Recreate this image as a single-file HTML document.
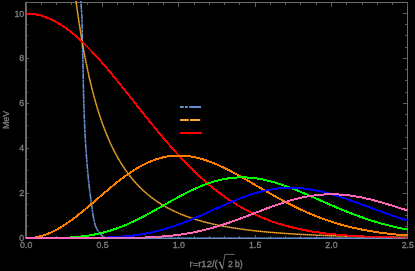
<!DOCTYPE html><html><head><meta charset="utf-8"><style>html,body{margin:0;padding:0;background:#000;overflow:hidden}body{width:415px;height:271px}</style></head><body><svg width="415" height="271" viewBox="0 0 415 271" style="display:block">
<rect width="415" height="271" fill="#000"/>
<defs><clipPath id="c"><rect x="25" y="1.0" width="382.8" height="239.2"/></clipPath></defs>
<g stroke="#666666" stroke-width="1" fill="none" shape-rendering="crispEdges">
<path d="M25,2.5 H408 M407.5,2 V238.5 M26,2 V238.5 M25,238 H408" stroke="#6c6c6c"/>
<path d="M25.5,2 V238.5" stroke="#6c6c6c"/>
<path d="M26.50,239 v-4 M26.50,3 v4 M41.50,239 v-3 M41.50,3 v2 M56.50,239 v-3 M56.50,3 v2 M71.50,239 v-3 M71.50,3 v2 M87.50,239 v-3 M87.50,3 v2 M102.50,239 v-4 M102.50,3 v4 M117.50,239 v-3 M117.50,3 v2 M133.50,239 v-3 M133.50,3 v2 M148.50,239 v-3 M148.50,3 v2 M163.50,239 v-3 M163.50,3 v2 M178.50,239 v-4 M178.50,3 v4 M194.50,239 v-3 M194.50,3 v2 M209.50,239 v-3 M209.50,3 v2 M224.50,239 v-3 M224.50,3 v2 M239.50,239 v-3 M239.50,3 v2 M255.50,239 v-4 M255.50,3 v4 M270.50,239 v-3 M270.50,3 v2 M285.50,239 v-3 M285.50,3 v2 M300.50,239 v-3 M300.50,3 v2 M316.50,239 v-3 M316.50,3 v2 M331.50,239 v-4 M331.50,3 v4 M346.50,239 v-3 M346.50,3 v2 M362.50,239 v-3 M362.50,3 v2 M377.50,239 v-3 M377.50,3 v2 M392.50,239 v-3 M392.50,3 v2 M407.50,239 v-4 M407.50,3 v4 M27,238.50 h2 M407,238.50 h-4 M407,226.50 h-2 M407,215.50 h-2 M407,204.50 h-2 M27,193.50 h2 M407,193.50 h-4 M407,182.50 h-2 M407,170.50 h-2 M407,159.50 h-2 M27,148.50 h2 M407,148.50 h-4 M407,137.50 h-2 M407,125.50 h-2 M407,114.50 h-2 M27,103.50 h2 M407,103.50 h-4 M407,92.50 h-2 M407,80.50 h-2 M407,69.50 h-2 M27,58.50 h2 M407,58.50 h-4 M407,47.50 h-2 M407,35.50 h-2 M407,24.50 h-2 M27,13.50 h2 M407,13.50 h-4" stroke="#5a5a5a"/>
<path d="M27,226.50 h1 M27,215.50 h1 M27,204.50 h1 M27,182.50 h1 M27,170.50 h1 M27,159.50 h1 M27,137.50 h1 M27,125.50 h1 M27,114.50 h1 M27,92.50 h1 M27,80.50 h1 M27,69.50 h1 M27,47.50 h1 M27,35.50 h1 M27,24.50 h1" stroke="#484848"/>
</g>
<g clip-path="url(#c)" fill="none" stroke-width="2" stroke-linejoin="round" shape-rendering="crispEdges">
<path d="M80.90,0.00 L80.93,0.79 L80.96,1.59 L80.99,2.38 L81.03,3.18 L81.07,3.97 L81.12,4.77 L81.16,5.56 L81.21,6.35 L81.27,7.15 L81.32,7.94 L81.37,8.74 L81.43,9.53 L81.48,10.33 L81.54,11.12 L81.59,11.91 L81.64,12.71 L81.70,13.50 L81.74,14.30 L81.79,15.09 L81.84,15.89 L81.88,16.68 L81.91,17.47 L81.95,18.27 L81.97,19.06 L82.00,19.86 L82.02,20.65 L82.03,21.45 L82.05,22.24 L82.06,23.04 L82.08,23.83 L82.09,24.62 L82.10,25.42 L82.11,26.21 L82.12,27.01 L82.13,27.80 L82.14,28.60 L82.15,29.39 L82.16,30.18 L82.17,30.98 L82.18,31.77 L82.19,32.57 L82.20,33.36 L82.21,34.16 L82.22,34.95 L82.23,35.74 L82.24,36.54 L82.25,37.33 L82.27,38.13 L82.28,38.92 L82.29,39.72 L82.31,40.51 L82.33,41.30 L82.35,42.10 L82.37,42.89 L82.39,43.69 L82.41,44.48 L82.44,45.28 L82.46,46.07 L82.48,46.86 L82.51,47.66 L82.54,48.45 L82.56,49.25 L82.59,50.04 L82.62,50.84 L82.64,51.63 L82.67,52.42 L82.70,53.22 L82.72,54.01 L82.75,54.81 L82.78,55.60 L82.80,56.40 L82.82,57.19 L82.85,57.98 L82.87,58.78 L82.89,59.57 L82.91,60.37 L82.93,61.16 L82.95,61.96 L82.96,62.75 L82.98,63.55 L83.00,64.34 L83.02,65.13 L83.03,65.93 L83.05,66.72 L83.06,67.52 L83.08,68.31 L83.10,69.11 L83.11,69.90 L83.12,70.69 L83.14,71.49 L83.15,72.28 L83.17,73.08 L83.18,73.87 L83.20,74.67 L83.21,75.46 L83.22,76.25 L83.24,77.05 L83.25,77.84 L83.26,78.64 L83.28,79.43 L83.29,80.23 L83.30,81.02 L83.32,81.81 L83.33,82.61 L83.35,83.40 L83.36,84.20 L83.37,84.99 L83.39,85.79 L83.40,86.58 L83.42,87.37 L83.43,88.17 L83.45,88.96 L83.46,89.76 L83.48,90.55 L83.50,91.35 L83.51,92.14 L83.53,92.93 L83.55,93.73 L83.56,94.52 L83.58,95.32 L83.60,96.11 L83.62,96.91 L83.64,97.70 L83.66,98.49 L83.68,99.29 L83.70,100.08 L83.72,100.88 L83.75,101.67 L83.77,102.47 L83.79,103.26 L83.82,104.06 L83.84,104.85 L83.87,105.64 L83.89,106.44 L83.92,107.23 L83.95,108.03 L83.97,108.82 L84.00,109.62 L84.03,110.41 L84.06,111.20 L84.09,112.00 L84.12,112.79 L84.15,113.59 L84.18,114.38 L84.21,115.18 L84.24,115.97 L84.28,116.76 L84.31,117.56 L84.34,118.35 L84.37,119.15 L84.41,119.94 L84.44,120.74 L84.48,121.53 L84.51,122.32 L84.55,123.12 L84.59,123.91 L84.62,124.71 L84.66,125.50 L84.70,126.30 L84.73,127.09 L84.77,127.88 L84.81,128.68 L84.85,129.47 L84.89,130.27 L84.93,131.06 L84.97,131.86 L85.01,132.65 L85.05,133.44 L85.09,134.24 L85.13,135.03 L85.18,135.83 L85.22,136.62 L85.26,137.42 L85.30,138.21 L85.35,139.01 L85.39,139.80 L85.43,140.59 L85.48,141.39 L85.52,142.18 L85.57,142.98 L85.62,143.77 L85.66,144.57 L85.71,145.36 L85.76,146.15 L85.81,146.95 L85.86,147.74 L85.91,148.54 L85.97,149.33 L86.02,150.13 L86.07,150.92 L86.13,151.71 L86.18,152.51 L86.24,153.30 L86.29,154.10 L86.35,154.89 L86.41,155.69 L86.47,156.48 L86.53,157.27 L86.59,158.07 L86.65,158.86 L86.71,159.66 L86.77,160.45 L86.83,161.25 L86.90,162.04 L86.96,162.83 L87.03,163.63 L87.09,164.42 L87.16,165.22 L87.22,166.01 L87.29,166.81 L87.36,167.60 L87.43,168.39 L87.50,169.19 L87.57,169.98 L87.64,170.78 L87.71,171.57 L87.78,172.37 L87.85,173.16 L87.93,173.95 L88.00,174.75 L88.07,175.54 L88.15,176.34 L88.22,177.13 L88.30,177.93 L88.38,178.72 L88.45,179.52 L88.53,180.31 L88.61,181.10 L88.69,181.90 L88.78,182.69 L88.86,183.49 L88.95,184.28 L89.04,185.08 L89.13,185.87 L89.22,186.66 L89.31,187.46 L89.41,188.25 L89.51,189.05 L89.60,189.84 L89.70,190.64 L89.80,191.43 L89.91,192.22 L90.01,193.02 L90.12,193.81 L90.22,194.61 L90.33,195.40 L90.44,196.20 L90.55,196.99 L90.65,197.78 L90.77,198.58 L90.88,199.37 L90.99,200.17 L91.10,200.96 L91.22,201.76 L91.33,202.55 L91.44,203.34 L91.55,204.14 L91.65,204.93 L91.76,205.73 L91.86,206.52 L91.96,207.32 L92.07,208.11 L92.17,208.90 L92.28,209.70 L92.38,210.49 L92.49,211.29 L92.60,212.08 L92.71,212.88 L92.83,213.67 L92.95,214.46 L93.08,215.26 L93.21,216.05 L93.35,216.85 L93.49,217.64 L93.64,218.44 L93.80,219.23 L93.96,220.03 L94.14,220.82 L94.32,221.61 L94.51,222.41 L94.71,223.20 L94.92,224.00 L95.14,224.79 L95.41,225.59 L95.72,226.38 L96.06,227.17 L96.44,227.97 L96.86,228.76 L97.31,229.56 L97.79,230.35 L98.30,231.15 L98.84,231.94 L99.40,232.73 L100.02,233.53 L100.76,234.32 L101.60,235.12 L102.52,235.91 L103.49,236.71 L104.50,237.50 L105.50,237.80 L107.00,238.20 L407.80,238.20" stroke="#6490d0" stroke-width="1.6" shape-rendering="auto" stroke-dasharray="2 0.4 0.8 0.4 6 0.4"/>
<path d="M64.36,-117.33 L64.93,-109.64 L65.51,-102.20 L66.08,-95.00 L66.65,-88.02 L67.23,-81.26 L67.80,-74.70 L68.37,-68.33 L68.95,-62.16 L69.52,-56.17 L70.09,-50.35 L70.67,-44.70 L71.24,-39.21 L71.81,-33.87 L72.39,-28.68 L72.96,-23.64 L73.53,-18.73 L74.11,-13.95 L74.68,-9.29 L75.25,-4.77 L75.83,-0.35 L76.40,3.94 L76.97,8.13 L77.55,12.22 L78.12,16.20 L78.69,20.08 L79.27,23.86 L79.84,27.56 L80.41,31.16 L80.99,34.68 L81.56,38.12 L82.13,41.48 L82.71,44.75 L83.28,47.95 L83.85,51.08 L84.43,54.14 L85.00,57.13 L85.57,60.05 L86.15,62.91 L86.72,65.70 L87.29,68.44 L87.87,71.11 L88.44,73.73 L89.01,76.29 L89.59,78.80 L90.16,81.25 L90.73,83.66 L91.31,86.01 L91.88,88.32 L92.45,90.58 L93.03,92.79 L93.60,94.96 L94.17,97.08 L94.75,99.17 L95.32,101.21 L95.89,103.21 L96.47,105.17 L97.04,107.10 L97.61,108.99 L98.19,110.84 L98.76,112.66 L99.33,114.44 L99.91,116.19 L100.48,117.91 L101.05,119.59 L101.63,121.25 L102.20,122.87 L102.77,124.46 L103.35,126.03 L103.92,127.57 L104.49,129.08 L105.07,130.56 L105.64,132.02 L106.21,133.45 L106.79,134.86 L107.36,136.24 L107.94,137.60 L108.51,138.93 L109.08,140.25 L109.66,141.54 L110.23,142.81 L110.80,144.05 L111.38,145.28 L111.95,146.48 L112.52,147.67 L113.10,148.84 L113.67,149.98 L114.24,151.11 L114.82,152.22 L115.39,153.31 L115.96,154.39 L116.54,155.44 L117.11,156.48 L117.68,157.51 L118.26,158.52 L118.83,159.51 L119.40,160.48 L119.98,161.44 L120.55,162.39 L121.12,163.32 L121.70,164.24 L122.27,165.14 L122.84,166.03 L123.42,166.91 L123.99,167.77 L124.56,168.62 L125.14,169.46 L125.71,170.28 L126.28,171.09 L126.86,171.89 L127.43,172.68 L128.00,173.46 L128.58,174.22 L129.15,174.97 L129.72,175.72 L130.30,176.45 L130.87,177.17 L131.44,177.88 L132.02,178.58 L132.59,179.28 L133.16,179.96 L133.74,180.63 L134.31,181.29 L134.88,181.94 L135.46,182.59 L136.03,183.22 L136.60,183.85 L137.18,184.46 L137.75,185.07 L138.32,185.67 L138.90,186.27 L139.47,186.85 L140.04,187.43 L140.62,187.99 L141.19,188.55 L141.76,189.11 L142.34,189.65 L142.91,190.19 L143.48,190.72 L144.06,191.25 L144.63,191.76 L145.20,192.27 L145.78,192.78 L146.35,193.27 L146.92,193.76 L147.50,194.25 L148.07,194.72 L148.64,195.20 L149.22,195.66 L149.79,196.12 L150.36,196.57 L150.94,197.02 L151.51,197.46 L152.08,197.90 L152.66,198.33 L153.23,198.75 L153.80,199.17 L154.38,199.59 L154.95,200.00 L155.52,200.40 L156.10,200.80 L156.67,201.19 L157.24,201.58 L157.82,201.97 L158.39,202.35 L158.96,202.72 L159.54,203.09 L160.11,203.46 L160.68,203.82 L161.26,204.17 L161.83,204.53 L162.40,204.87 L162.98,205.22 L163.55,205.56 L164.12,205.89 L164.70,206.22 L165.27,206.55 L165.84,206.88 L166.42,207.20 L166.99,207.51 L167.56,207.82 L168.14,208.13 L168.71,208.44 L169.28,208.74 L169.86,209.04 L170.43,209.33 L171.00,209.62 L171.58,209.91 L172.15,210.19 L172.72,210.47 L173.30,210.75 L173.87,211.02 L174.44,211.30 L175.02,211.56 L175.59,211.83 L176.16,212.09 L176.74,212.35 L177.31,212.60 L177.88,212.86 L178.46,213.11 L179.03,213.35 L179.60,213.60 L180.18,213.84 L180.75,214.08 L181.32,214.31 L181.90,214.55 L182.47,214.78 L183.04,215.01 L183.62,215.23 L184.19,215.46 L184.76,215.68 L185.34,215.89 L185.91,216.11 L186.48,216.32 L187.06,216.54 L187.63,216.74 L188.20,216.95 L188.78,217.15 L189.35,217.36 L189.92,217.56 L190.50,217.75 L191.07,217.95 L191.64,218.14 L192.22,218.33 L192.79,218.52 L193.37,218.71 L193.94,218.89 L194.51,219.08 L195.09,219.26 L195.66,219.44 L196.23,219.62 L196.81,219.79 L197.38,219.96 L197.95,220.14 L198.53,220.31 L199.10,220.47 L199.67,220.64 L200.25,220.80 L200.82,220.97 L201.39,221.13 L201.97,221.29 L202.54,221.44 L203.11,221.60 L203.69,221.75 L204.26,221.91 L204.83,222.06 L205.41,222.21 L205.98,222.36 L206.55,222.50 L207.13,222.65 L207.70,222.79 L208.27,222.93 L208.85,223.07 L209.42,223.21 L209.99,223.35 L210.57,223.48 L211.14,223.62 L211.71,223.75 L212.29,223.88 L212.86,224.01 L213.43,224.14 L214.01,224.27 L214.58,224.40 L215.15,224.52 L215.73,224.65 L216.30,224.77 L216.87,224.89 L217.45,225.01 L218.02,225.13 L218.59,225.25 L219.17,225.37 L219.74,225.48 L220.31,225.60 L220.89,225.71 L221.46,225.82 L222.03,225.93 L222.61,226.04 L223.18,226.15 L223.75,226.26 L224.33,226.37 L224.90,226.47 L225.47,226.58 L226.05,226.68 L226.62,226.78 L227.19,226.88 L227.77,226.98 L228.34,227.08 L228.91,227.18 L229.49,227.28 L230.06,227.38 L230.63,227.47 L231.21,227.57 L231.78,227.66 L232.35,227.75 L232.93,227.85 L233.50,227.94 L234.07,228.03 L234.65,228.12 L235.22,228.21 L235.79,228.29 L236.37,228.38 L236.94,228.47 L237.51,228.55 L238.09,228.63 L238.66,228.72 L239.23,228.80 L239.81,228.88 L240.38,228.96 L240.95,229.04 L241.53,229.12 L242.10,229.20 L242.67,229.28 L243.25,229.36 L243.82,229.43 L244.39,229.51 L244.97,229.59 L245.54,229.66 L246.11,229.73 L246.69,229.81 L247.26,229.88 L247.83,229.95 L248.41,230.02 L248.98,230.09 L249.55,230.16 L250.13,230.23 L250.70,230.30 L251.27,230.37 L251.85,230.43 L252.42,230.50 L252.99,230.57 L253.57,230.63 L254.14,230.70 L254.71,230.76 L255.29,230.82 L255.86,230.89 L256.43,230.95 L257.01,231.01 L257.58,231.07 L258.15,231.13 L258.73,231.19 L259.30,231.25 L259.87,231.31 L260.45,231.37 L261.02,231.42 L261.59,231.48 L262.17,231.54 L262.74,231.59 L263.31,231.65 L263.89,231.71 L264.46,231.76 L265.03,231.81 L265.61,231.87 L266.18,231.92 L266.75,231.97 L267.33,232.03 L267.90,232.08 L268.47,232.13 L269.05,232.18 L269.62,232.23 L270.19,232.28 L270.77,232.33 L271.34,232.38 L271.91,232.43 L272.49,232.48 L273.06,232.52 L273.63,232.57 L274.21,232.62 L274.78,232.66 L275.35,232.71 L275.93,232.75 L276.50,232.80 L277.07,232.84 L277.65,232.89 L278.22,232.93 L278.79,232.98 L279.37,233.02 L279.94,233.06 L280.52,233.10 L281.09,233.15 L281.66,233.19 L282.24,233.23 L282.81,233.27 L283.38,233.31 L283.96,233.35 L284.53,233.39 L285.10,233.43 L285.68,233.47 L286.25,233.51 L286.82,233.55 L287.40,233.59 L287.97,233.62 L288.54,233.66 L289.12,233.70 L289.69,233.73 L290.26,233.77 L290.84,233.81 L291.41,233.84 L291.98,233.88 L292.56,233.91 L293.13,233.95 L293.70,233.98 L294.28,234.02 L294.85,234.05 L295.42,234.08 L296.00,234.12 L296.57,234.15 L297.14,234.18 L297.72,234.22 L298.29,234.25 L298.86,234.28 L299.44,234.31 L300.01,234.34 L300.58,234.38 L301.16,234.41 L301.73,234.44 L302.30,234.47 L302.88,234.50 L303.45,234.53 L304.02,234.56 L304.60,234.59 L305.17,234.61 L305.74,234.64 L306.32,234.67 L306.89,234.70 L307.46,234.73 L308.04,234.76 L308.61,234.78 L309.18,234.81 L309.76,234.84 L310.33,234.87 L310.90,234.89 L311.48,234.92 L312.05,234.94 L312.62,234.97 L313.20,235.00 L313.77,235.02 L314.34,235.05 L314.92,235.07 L315.49,235.10 L316.06,235.12 L316.64,235.15 L317.21,235.17 L317.78,235.19 L318.36,235.22 L318.93,235.24 L319.50,235.27 L320.08,235.29 L320.65,235.31 L321.22,235.34 L321.80,235.36 L322.37,235.38 L322.94,235.40 L323.52,235.42 L324.09,235.45 L324.66,235.47 L325.24,235.49 L325.81,235.51 L326.38,235.53 L326.96,235.55 L327.53,235.57 L328.10,235.60 L328.68,235.62 L329.25,235.64 L329.82,235.66 L330.40,235.68 L330.97,235.70 L331.54,235.72 L332.12,235.74 L332.69,235.75 L333.26,235.77 L333.84,235.79 L334.41,235.81 L334.98,235.83 L335.56,235.85 L336.13,235.87 L336.70,235.89 L337.28,235.90 L337.85,235.92 L338.42,235.94 L339.00,235.96 L339.57,235.97 L340.14,235.99 L340.72,236.01 L341.29,236.03 L341.86,236.04 L342.44,236.06 L343.01,236.08 L343.58,236.09 L344.16,236.11 L344.73,236.13 L345.30,236.14 L345.88,236.16 L346.45,236.17 L347.02,236.19 L347.60,236.20 L348.17,236.22 L348.74,236.24 L349.32,236.25 L349.89,236.27 L350.46,236.28 L351.04,236.30 L351.61,236.31 L352.18,236.32 L352.76,236.34 L353.33,236.35 L353.90,236.37 L354.48,236.38 L355.05,236.40 L355.62,236.41 L356.20,236.42 L356.77,236.44 L357.34,236.45 L357.92,236.46 L358.49,236.48 L359.06,236.49 L359.64,236.50 L360.21,236.52 L360.78,236.53 L361.36,236.54 L361.93,236.56 L362.50,236.57 L363.08,236.58 L363.65,236.59 L364.22,236.61 L364.80,236.62 L365.37,236.63 L365.95,236.64 L366.52,236.65 L367.09,236.67 L367.67,236.68 L368.24,236.69 L368.81,236.70 L369.39,236.71 L369.96,236.72 L370.53,236.73 L371.11,236.75 L371.68,236.76 L372.25,236.77 L372.83,236.78 L373.40,236.79 L373.97,236.80 L374.55,236.81 L375.12,236.82 L375.69,236.83 L376.27,236.84 L376.84,236.85 L377.41,236.86 L377.99,236.87 L378.56,236.88 L379.13,236.89 L379.71,236.90 L380.28,236.91 L380.85,236.92 L381.43,236.93 L382.00,236.94 L382.57,236.95 L383.15,236.96 L383.72,236.97 L384.29,236.98 L384.87,236.99 L385.44,237.00 L386.01,237.01 L386.59,237.02 L387.16,237.02 L387.73,237.03 L388.31,237.04 L388.88,237.05 L389.45,237.06 L390.03,237.07 L390.60,237.08 L391.17,237.09 L391.75,237.09 L392.32,237.10 L392.89,237.11 L393.47,237.12 L394.04,237.13 L394.61,237.13 L395.19,237.14 L395.76,237.15 L396.33,237.16 L396.91,237.17 L397.48,237.17 L398.05,237.18 L398.63,237.19 L399.20,237.20 L399.77,237.20 L400.35,237.21 L400.92,237.22 L401.49,237.23 L402.07,237.23 L402.64,237.24 L403.21,237.25 L403.79,237.26 L404.36,237.26 L404.93,237.27 L405.51,237.28 L406.08,237.28 L406.65,237.29 L407.23,237.30 L407.80,237.30" stroke="#f8aa2a" stroke-width="1.5" shape-rendering="auto" stroke-dasharray="1.8 0.25"/>
<path d="M26.20,13.50 L27.16,13.51 L28.11,13.54 L29.07,13.58 L30.03,13.64 L30.98,13.72 L31.94,13.82 L32.89,13.93 L33.85,14.06 L34.81,14.21 L35.76,14.38 L36.72,14.56 L37.68,14.77 L38.63,14.99 L39.59,15.22 L40.55,15.48 L41.50,15.75 L42.46,16.03 L43.42,16.34 L44.37,16.66 L45.33,17.00 L46.28,17.36 L47.24,17.73 L48.20,18.12 L49.15,18.52 L50.11,18.95 L51.07,19.38 L52.02,19.84 L52.98,20.31 L53.94,20.80 L54.89,21.30 L55.85,21.82 L56.80,22.35 L57.76,22.90 L58.72,23.47 L59.67,24.05 L60.63,24.65 L61.59,25.26 L62.54,25.88 L63.50,26.52 L64.46,27.18 L65.41,27.85 L66.37,28.53 L67.32,29.23 L68.28,29.95 L69.24,30.67 L70.19,31.41 L71.15,32.17 L72.11,32.93 L73.06,33.71 L74.02,34.51 L74.98,35.31 L75.93,36.13 L76.89,36.96 L77.85,37.81 L78.80,38.66 L79.76,39.53 L80.71,40.41 L81.67,41.30 L82.63,42.20 L83.58,43.11 L84.54,44.04 L85.50,44.97 L86.45,45.92 L87.41,46.88 L88.37,47.84 L89.32,48.82 L90.28,49.81 L91.23,50.80 L92.19,51.81 L93.15,52.82 L94.10,53.84 L95.06,54.88 L96.02,55.92 L96.97,56.97 L97.93,58.02 L98.89,59.09 L99.84,60.16 L100.80,61.24 L101.75,62.33 L102.71,63.42 L103.67,64.52 L104.62,65.63 L105.58,66.75 L106.54,67.87 L107.49,68.99 L108.45,70.13 L109.41,71.26 L110.36,72.41 L111.32,73.55 L112.28,74.71 L113.23,75.86 L114.19,77.03 L115.14,78.19 L116.10,79.36 L117.06,80.54 L118.01,81.72 L118.97,82.90 L119.93,84.08 L120.88,85.27 L121.84,86.46 L122.80,87.65 L123.75,88.85 L124.71,90.04 L125.66,91.24 L126.62,92.44 L127.58,93.65 L128.53,94.85 L129.49,96.05 L130.45,97.26 L131.40,98.47 L132.36,99.67 L133.32,100.88 L134.27,102.09 L135.23,103.30 L136.18,104.50 L137.14,105.71 L138.10,106.92 L139.05,108.12 L140.01,109.33 L140.97,110.53 L141.92,111.73 L142.88,112.93 L143.84,114.13 L144.79,115.33 L145.75,116.53 L146.71,117.72 L147.66,118.91 L148.62,120.10 L149.57,121.28 L150.53,122.47 L151.49,123.65 L152.44,124.82 L153.40,126.00 L154.36,127.17 L155.31,128.33 L156.27,129.49 L157.23,130.65 L158.18,131.81 L159.14,132.96 L160.09,134.11 L161.05,135.25 L162.01,136.39 L162.96,137.52 L163.92,138.65 L164.88,139.77 L165.83,140.89 L166.79,142.00 L167.75,143.11 L168.70,144.21 L169.66,145.31 L170.62,146.40 L171.57,147.48 L172.53,148.56 L173.48,149.64 L174.44,150.71 L175.40,151.77 L176.35,152.82 L177.31,153.87 L178.27,154.91 L179.22,155.95 L180.18,156.98 L181.14,158.00 L182.09,159.02 L183.05,160.03 L184.00,161.03 L184.96,162.03 L185.92,163.02 L186.87,164.00 L187.83,164.98 L188.79,165.95 L189.74,166.91 L190.70,167.86 L191.66,168.81 L192.61,169.75 L193.57,170.68 L194.52,171.60 L195.48,172.52 L196.44,173.43 L197.39,174.33 L198.35,175.22 L199.31,176.11 L200.26,176.99 L201.22,177.86 L202.18,178.72 L203.13,179.58 L204.09,180.42 L205.05,181.26 L206.00,182.10 L206.96,182.92 L207.91,183.74 L208.87,184.54 L209.83,185.35 L210.78,186.14 L211.74,186.92 L212.70,187.70 L213.65,188.47 L214.61,189.23 L215.57,189.98 L216.52,190.73 L217.48,191.47 L218.43,192.20 L219.39,192.92 L220.35,193.63 L221.30,194.34 L222.26,195.04 L223.22,195.73 L224.17,196.41 L225.13,197.09 L226.09,197.76 L227.04,198.42 L228.00,199.07 L228.95,199.71 L229.91,200.35 L230.87,200.98 L231.82,201.60 L232.78,202.21 L233.74,202.82 L234.69,203.42 L235.65,204.01 L236.61,204.60 L237.56,205.17 L238.52,205.74 L239.48,206.30 L240.43,206.86 L241.39,207.41 L242.34,207.95 L243.30,208.48 L244.26,209.01 L245.21,209.53 L246.17,210.04 L247.13,210.54 L248.08,211.04 L249.04,211.53 L250.00,212.02 L250.95,212.49 L251.91,212.97 L252.86,213.43 L253.82,213.89 L254.78,214.34 L255.73,214.78 L256.69,215.22 L257.65,215.65 L258.60,216.08 L259.56,216.50 L260.52,216.91 L261.47,217.32 L262.43,217.72 L263.38,218.11 L264.34,218.50 L265.30,218.88 L266.25,219.26 L267.21,219.63 L268.17,219.99 L269.12,220.35 L270.08,220.70 L271.04,221.05 L271.99,221.39 L272.95,221.73 L273.91,222.06 L274.86,222.39 L275.82,222.71 L276.77,223.02 L277.73,223.33 L278.69,223.64 L279.64,223.93 L280.60,224.23 L281.56,224.52 L282.51,224.80 L283.47,225.08 L284.43,225.36 L285.38,225.63 L286.34,225.89 L287.29,226.15 L288.25,226.41 L289.21,226.66 L290.16,226.91 L291.12,227.15 L292.08,227.39 L293.03,227.62 L293.99,227.85 L294.95,228.08 L295.90,228.30 L296.86,228.51 L297.82,228.73 L298.77,228.94 L299.73,229.14 L300.68,229.34 L301.64,229.54 L302.60,229.74 L303.55,229.93 L304.51,230.11 L305.47,230.30 L306.42,230.48 L307.38,230.65 L308.34,230.82 L309.29,230.99 L310.25,231.16 L311.20,231.32 L312.16,231.48 L313.12,231.64 L314.07,231.79 L315.03,231.94 L315.99,232.09 L316.94,232.23 L317.90,232.37 L318.86,232.51 L319.81,232.65 L320.77,232.78 L321.72,232.91 L322.68,233.03 L323.64,233.16 L324.59,233.28 L325.55,233.40 L326.51,233.52 L327.46,233.63 L328.42,233.74 L329.38,233.85 L330.33,233.96 L331.29,234.06 L332.25,234.17 L333.20,234.27 L334.16,234.36 L335.11,234.46 L336.07,234.55 L337.03,234.65 L337.98,234.74 L338.94,234.82 L339.90,234.91 L340.85,234.99 L341.81,235.07 L342.77,235.15 L343.72,235.23 L344.68,235.31 L345.63,235.38 L346.59,235.46 L347.55,235.53 L348.50,235.60 L349.46,235.67 L350.42,235.73 L351.37,235.80 L352.33,235.86 L353.29,235.92 L354.24,235.98 L355.20,236.04 L356.15,236.10 L357.11,236.16 L358.07,236.21 L359.02,236.26 L359.98,236.32 L360.94,236.37 L361.89,236.42 L362.85,236.47 L363.81,236.51 L364.76,236.56 L365.72,236.60 L366.68,236.65 L367.63,236.69 L368.59,236.73 L369.54,236.77 L370.50,236.81 L371.46,236.85 L372.41,236.89 L373.37,236.93 L374.33,236.96 L375.28,237.00 L376.24,237.03 L377.20,237.06 L378.15,237.10 L379.11,237.13 L380.06,237.16 L381.02,237.19 L381.98,237.22 L382.93,237.25 L383.89,237.27 L384.85,237.30 L385.80,237.33 L386.76,237.35 L387.72,237.38 L388.67,237.40 L389.63,237.42 L390.58,237.45 L391.54,237.47 L392.50,237.49 L393.45,237.51 L394.41,237.53 L395.37,237.55 L396.32,237.57 L397.28,237.59 L398.24,237.61 L399.19,237.63 L400.15,237.64 L401.11,237.66 L402.06,237.68 L403.02,237.69 L403.97,237.71 L404.93,237.72 L405.89,237.74 L406.84,237.75 L407.80,237.77" stroke="#ff0000"/>
<path d="M26.20,238.20 L27.16,238.19 L28.11,238.16 L29.07,238.12 L30.03,238.06 L30.98,237.98 L31.94,237.88 L32.89,237.77 L33.85,237.64 L34.81,237.49 L35.76,237.32 L36.72,237.14 L37.68,236.94 L38.63,236.72 L39.59,236.48 L40.55,236.23 L41.50,235.96 L42.46,235.68 L43.42,235.38 L44.37,235.06 L45.33,234.73 L46.28,234.38 L47.24,234.01 L48.20,233.63 L49.15,233.23 L50.11,232.82 L51.07,232.39 L52.02,231.95 L52.98,231.49 L53.94,231.02 L54.89,230.54 L55.85,230.04 L56.80,229.52 L57.76,229.00 L58.72,228.45 L59.67,227.90 L60.63,227.33 L61.59,226.76 L62.54,226.16 L63.50,225.56 L64.46,224.95 L65.41,224.32 L66.37,223.68 L67.32,223.03 L68.28,222.37 L69.24,221.70 L70.19,221.02 L71.15,220.33 L72.11,219.63 L73.06,218.93 L74.02,218.21 L74.98,217.48 L75.93,216.75 L76.89,216.01 L77.85,215.26 L78.80,214.50 L79.76,213.74 L80.71,212.97 L81.67,212.20 L82.63,211.42 L83.58,210.63 L84.54,209.84 L85.50,209.04 L86.45,208.24 L87.41,207.43 L88.37,206.63 L89.32,205.81 L90.28,205.00 L91.23,204.18 L92.19,203.36 L93.15,202.54 L94.10,201.72 L95.06,200.89 L96.02,200.06 L96.97,199.24 L97.93,198.41 L98.89,197.59 L99.84,196.76 L100.80,195.93 L101.75,195.11 L102.71,194.29 L103.67,193.47 L104.62,192.65 L105.58,191.83 L106.54,191.02 L107.49,190.21 L108.45,189.40 L109.41,188.59 L110.36,187.80 L111.32,187.00 L112.28,186.21 L113.23,185.42 L114.19,184.64 L115.14,183.87 L116.10,183.10 L117.06,182.34 L118.01,181.58 L118.97,180.83 L119.93,180.09 L120.88,179.36 L121.84,178.63 L122.80,177.91 L123.75,177.20 L124.71,176.49 L125.66,175.80 L126.62,175.11 L127.58,174.44 L128.53,173.77 L129.49,173.11 L130.45,172.46 L131.40,171.82 L132.36,171.19 L133.32,170.58 L134.27,169.97 L135.23,169.37 L136.18,168.79 L137.14,168.21 L138.10,167.65 L139.05,167.09 L140.01,166.55 L140.97,166.03 L141.92,165.51 L142.88,165.00 L143.84,164.51 L144.79,164.03 L145.75,163.56 L146.71,163.11 L147.66,162.66 L148.62,162.23 L149.57,161.82 L150.53,161.41 L151.49,161.02 L152.44,160.64 L153.40,160.28 L154.36,159.93 L155.31,159.59 L156.27,159.27 L157.23,158.96 L158.18,158.66 L159.14,158.37 L160.09,158.10 L161.05,157.85 L162.01,157.60 L162.96,157.37 L163.92,157.16 L164.88,156.95 L165.83,156.77 L166.79,156.59 L167.75,156.43 L168.70,156.28 L169.66,156.15 L170.62,156.03 L171.57,155.92 L172.53,155.82 L173.48,155.74 L174.44,155.68 L175.40,155.62 L176.35,155.58 L177.31,155.55 L178.27,155.54 L179.22,155.54 L180.18,155.55 L181.14,155.57 L182.09,155.61 L183.05,155.66 L184.00,155.72 L184.96,155.80 L185.92,155.89 L186.87,155.99 L187.83,156.10 L188.79,156.22 L189.74,156.36 L190.70,156.51 L191.66,156.66 L192.61,156.84 L193.57,157.02 L194.52,157.21 L195.48,157.41 L196.44,157.63 L197.39,157.86 L198.35,158.09 L199.31,158.34 L200.26,158.60 L201.22,158.87 L202.18,159.14 L203.13,159.43 L204.09,159.73 L205.05,160.04 L206.00,160.35 L206.96,160.68 L207.91,161.01 L208.87,161.36 L209.83,161.71 L210.78,162.07 L211.74,162.44 L212.70,162.81 L213.65,163.20 L214.61,163.59 L215.57,163.99 L216.52,164.40 L217.48,164.82 L218.43,165.24 L219.39,165.67 L220.35,166.10 L221.30,166.54 L222.26,166.99 L223.22,167.45 L224.17,167.91 L225.13,168.37 L226.09,168.84 L227.04,169.32 L228.00,169.80 L228.95,170.29 L229.91,170.78 L230.87,171.28 L231.82,171.78 L232.78,172.29 L233.74,172.80 L234.69,173.31 L235.65,173.83 L236.61,174.35 L237.56,174.87 L238.52,175.40 L239.48,175.93 L240.43,176.46 L241.39,177.00 L242.34,177.54 L243.30,178.08 L244.26,178.62 L245.21,179.17 L246.17,179.71 L247.13,180.26 L248.08,180.81 L249.04,181.36 L250.00,181.92 L250.95,182.47 L251.91,183.02 L252.86,183.58 L253.82,184.13 L254.78,184.69 L255.73,185.25 L256.69,185.80 L257.65,186.36 L258.60,186.92 L259.56,187.47 L260.52,188.03 L261.47,188.58 L262.43,189.14 L263.38,189.69 L264.34,190.25 L265.30,190.80 L266.25,191.35 L267.21,191.90 L268.17,192.44 L269.12,192.99 L270.08,193.54 L271.04,194.08 L271.99,194.62 L272.95,195.16 L273.91,195.70 L274.86,196.23 L275.82,196.76 L276.77,197.30 L277.73,197.82 L278.69,198.35 L279.64,198.87 L280.60,199.39 L281.56,199.91 L282.51,200.42 L283.47,200.93 L284.43,201.44 L285.38,201.95 L286.34,202.45 L287.29,202.95 L288.25,203.45 L289.21,203.94 L290.16,204.43 L291.12,204.91 L292.08,205.39 L293.03,205.87 L293.99,206.35 L294.95,206.82 L295.90,207.28 L296.86,207.75 L297.82,208.21 L298.77,208.66 L299.73,209.12 L300.68,209.56 L301.64,210.01 L302.60,210.45 L303.55,210.88 L304.51,211.31 L305.47,211.74 L306.42,212.16 L307.38,212.58 L308.34,213.00 L309.29,213.41 L310.25,213.82 L311.20,214.22 L312.16,214.62 L313.12,215.01 L314.07,215.40 L315.03,215.78 L315.99,216.17 L316.94,216.54 L317.90,216.91 L318.86,217.28 L319.81,217.65 L320.77,218.01 L321.72,218.36 L322.68,218.71 L323.64,219.06 L324.59,219.40 L325.55,219.74 L326.51,220.07 L327.46,220.40 L328.42,220.73 L329.38,221.05 L330.33,221.36 L331.29,221.68 L332.25,221.98 L333.20,222.29 L334.16,222.59 L335.11,222.88 L336.07,223.18 L337.03,223.46 L337.98,223.75 L338.94,224.03 L339.90,224.30 L340.85,224.57 L341.81,224.84 L342.77,225.10 L343.72,225.36 L344.68,225.62 L345.63,225.87 L346.59,226.12 L347.55,226.36 L348.50,226.60 L349.46,226.84 L350.42,227.07 L351.37,227.30 L352.33,227.52 L353.29,227.74 L354.24,227.96 L355.20,228.18 L356.15,228.39 L357.11,228.59 L358.07,228.80 L359.02,229.00 L359.98,229.19 L360.94,229.39 L361.89,229.58 L362.85,229.76 L363.81,229.95 L364.76,230.13 L365.72,230.31 L366.68,230.48 L367.63,230.65 L368.59,230.82 L369.54,230.98 L370.50,231.15 L371.46,231.30 L372.41,231.46 L373.37,231.61 L374.33,231.76 L375.28,231.91 L376.24,232.05 L377.20,232.20 L378.15,232.33 L379.11,232.47 L380.06,232.60 L381.02,232.74 L381.98,232.86 L382.93,232.99 L383.89,233.11 L384.85,233.23 L385.80,233.35 L386.76,233.47 L387.72,233.58 L388.67,233.69 L389.63,233.80 L390.58,233.91 L391.54,234.02 L392.50,234.12 L393.45,234.22 L394.41,234.32 L395.37,234.41 L396.32,234.51 L397.28,234.60 L398.24,234.69 L399.19,234.78 L400.15,234.86 L401.11,234.95 L402.06,235.03 L403.02,235.11 L403.97,235.19 L404.93,235.27 L405.89,235.34 L406.84,235.42 L407.80,235.49" stroke="#ff8000"/>
<path d="M26.20,238.20 L27.16,238.20 L28.11,238.20 L29.07,238.20 L30.03,238.20 L30.98,238.20 L31.94,238.20 L32.89,238.20 L33.85,238.20 L34.81,238.20 L35.76,238.20 L36.72,238.20 L37.68,238.20 L38.63,238.20 L39.59,238.19 L40.55,238.19 L41.50,238.19 L42.46,238.19 L43.42,238.18 L44.37,238.18 L45.33,238.17 L46.28,238.17 L47.24,238.16 L48.20,238.15 L49.15,238.14 L50.11,238.13 L51.07,238.12 L52.02,238.11 L52.98,238.10 L53.94,238.08 L54.89,238.06 L55.85,238.05 L56.80,238.03 L57.76,238.00 L58.72,237.98 L59.67,237.95 L60.63,237.92 L61.59,237.89 L62.54,237.86 L63.50,237.82 L64.46,237.78 L65.41,237.74 L66.37,237.70 L67.32,237.65 L68.28,237.60 L69.24,237.54 L70.19,237.49 L71.15,237.43 L72.11,237.36 L73.06,237.29 L74.02,237.22 L74.98,237.14 L75.93,237.06 L76.89,236.98 L77.85,236.89 L78.80,236.79 L79.76,236.69 L80.71,236.59 L81.67,236.48 L82.63,236.37 L83.58,236.25 L84.54,236.13 L85.50,236.00 L86.45,235.87 L87.41,235.73 L88.37,235.58 L89.32,235.43 L90.28,235.27 L91.23,235.11 L92.19,234.94 L93.15,234.77 L94.10,234.59 L95.06,234.40 L96.02,234.21 L96.97,234.01 L97.93,233.81 L98.89,233.60 L99.84,233.38 L100.80,233.15 L101.75,232.92 L102.71,232.68 L103.67,232.44 L104.62,232.19 L105.58,231.93 L106.54,231.66 L107.49,231.39 L108.45,231.12 L109.41,230.83 L110.36,230.54 L111.32,230.24 L112.28,229.93 L113.23,229.62 L114.19,229.30 L115.14,228.98 L116.10,228.64 L117.06,228.30 L118.01,227.96 L118.97,227.60 L119.93,227.25 L120.88,226.88 L121.84,226.51 L122.80,226.13 L123.75,225.74 L124.71,225.35 L125.66,224.95 L126.62,224.55 L127.58,224.14 L128.53,223.72 L129.49,223.30 L130.45,222.87 L131.40,222.43 L132.36,221.99 L133.32,221.55 L134.27,221.10 L135.23,220.64 L136.18,220.18 L137.14,219.71 L138.10,219.24 L139.05,218.77 L140.01,218.28 L140.97,217.80 L141.92,217.31 L142.88,216.81 L143.84,216.32 L144.79,215.81 L145.75,215.31 L146.71,214.80 L147.66,214.29 L148.62,213.77 L149.57,213.25 L150.53,212.73 L151.49,212.20 L152.44,211.67 L153.40,211.14 L154.36,210.61 L155.31,210.08 L156.27,209.54 L157.23,209.00 L158.18,208.47 L159.14,207.93 L160.09,207.38 L161.05,206.84 L162.01,206.30 L162.96,205.76 L163.92,205.21 L164.88,204.67 L165.83,204.13 L166.79,203.58 L167.75,203.04 L168.70,202.50 L169.66,201.96 L170.62,201.42 L171.57,200.88 L172.53,200.35 L173.48,199.81 L174.44,199.28 L175.40,198.75 L176.35,198.23 L177.31,197.70 L178.27,197.18 L179.22,196.66 L180.18,196.15 L181.14,195.64 L182.09,195.13 L183.05,194.62 L184.00,194.12 L184.96,193.63 L185.92,193.14 L186.87,192.65 L187.83,192.17 L188.79,191.70 L189.74,191.22 L190.70,190.76 L191.66,190.30 L192.61,189.85 L193.57,189.40 L194.52,188.96 L195.48,188.52 L196.44,188.09 L197.39,187.67 L198.35,187.25 L199.31,186.84 L200.26,186.44 L201.22,186.05 L202.18,185.66 L203.13,185.28 L204.09,184.91 L205.05,184.55 L206.00,184.19 L206.96,183.84 L207.91,183.50 L208.87,183.17 L209.83,182.85 L210.78,182.53 L211.74,182.23 L212.70,181.93 L213.65,181.64 L214.61,181.36 L215.57,181.09 L216.52,180.83 L217.48,180.58 L218.43,180.34 L219.39,180.10 L220.35,179.88 L221.30,179.66 L222.26,179.46 L223.22,179.26 L224.17,179.08 L225.13,178.90 L226.09,178.73 L227.04,178.58 L228.00,178.43 L228.95,178.29 L229.91,178.16 L230.87,178.04 L231.82,177.93 L232.78,177.84 L233.74,177.75 L234.69,177.67 L235.65,177.60 L236.61,177.54 L237.56,177.49 L238.52,177.45 L239.48,177.42 L240.43,177.39 L241.39,177.38 L242.34,177.38 L243.30,177.39 L244.26,177.41 L245.21,177.43 L246.17,177.47 L247.13,177.51 L248.08,177.57 L249.04,177.63 L250.00,177.70 L250.95,177.79 L251.91,177.88 L252.86,177.98 L253.82,178.09 L254.78,178.20 L255.73,178.33 L256.69,178.46 L257.65,178.61 L258.60,178.76 L259.56,178.92 L260.52,179.09 L261.47,179.26 L262.43,179.45 L263.38,179.64 L264.34,179.84 L265.30,180.04 L266.25,180.26 L267.21,180.48 L268.17,180.71 L269.12,180.95 L270.08,181.19 L271.04,181.44 L271.99,181.70 L272.95,181.96 L273.91,182.23 L274.86,182.51 L275.82,182.79 L276.77,183.08 L277.73,183.38 L278.69,183.68 L279.64,183.99 L280.60,184.30 L281.56,184.62 L282.51,184.94 L283.47,185.27 L284.43,185.60 L285.38,185.94 L286.34,186.28 L287.29,186.63 L288.25,186.98 L289.21,187.34 L290.16,187.70 L291.12,188.06 L292.08,188.43 L293.03,188.80 L293.99,189.18 L294.95,189.56 L295.90,189.94 L296.86,190.33 L297.82,190.72 L298.77,191.11 L299.73,191.50 L300.68,191.90 L301.64,192.30 L302.60,192.70 L303.55,193.10 L304.51,193.51 L305.47,193.92 L306.42,194.33 L307.38,194.74 L308.34,195.15 L309.29,195.56 L310.25,195.98 L311.20,196.40 L312.16,196.81 L313.12,197.23 L314.07,197.65 L315.03,198.07 L315.99,198.49 L316.94,198.91 L317.90,199.33 L318.86,199.75 L319.81,200.17 L320.77,200.60 L321.72,201.02 L322.68,201.44 L323.64,201.86 L324.59,202.28 L325.55,202.70 L326.51,203.12 L327.46,203.53 L328.42,203.95 L329.38,204.37 L330.33,204.78 L331.29,205.19 L332.25,205.61 L333.20,206.02 L334.16,206.43 L335.11,206.83 L336.07,207.24 L337.03,207.64 L337.98,208.05 L338.94,208.45 L339.90,208.85 L340.85,209.24 L341.81,209.64 L342.77,210.03 L343.72,210.42 L344.68,210.81 L345.63,211.20 L346.59,211.58 L347.55,211.96 L348.50,212.34 L349.46,212.72 L350.42,213.09 L351.37,213.46 L352.33,213.83 L353.29,214.19 L354.24,214.56 L355.20,214.92 L356.15,215.27 L357.11,215.63 L358.07,215.98 L359.02,216.32 L359.98,216.67 L360.94,217.01 L361.89,217.35 L362.85,217.68 L363.81,218.02 L364.76,218.35 L365.72,218.67 L366.68,218.99 L367.63,219.31 L368.59,219.63 L369.54,219.94 L370.50,220.25 L371.46,220.56 L372.41,220.86 L373.37,221.16 L374.33,221.46 L375.28,221.75 L376.24,222.04 L377.20,222.33 L378.15,222.61 L379.11,222.89 L380.06,223.16 L381.02,223.44 L381.98,223.71 L382.93,223.97 L383.89,224.23 L384.85,224.49 L385.80,224.75 L386.76,225.00 L387.72,225.25 L388.67,225.50 L389.63,225.74 L390.58,225.98 L391.54,226.21 L392.50,226.44 L393.45,226.67 L394.41,226.90 L395.37,227.12 L396.32,227.34 L397.28,227.56 L398.24,227.77 L399.19,227.98 L400.15,228.19 L401.11,228.39 L402.06,228.59 L403.02,228.79 L403.97,228.98 L404.93,229.17 L405.89,229.36 L406.84,229.55 L407.80,229.73" stroke="#00ff00"/>
<path d="M26.20,238.20 L27.16,238.20 L28.11,238.20 L29.07,238.20 L30.03,238.20 L30.98,238.20 L31.94,238.20 L32.89,238.20 L33.85,238.20 L34.81,238.20 L35.76,238.20 L36.72,238.20 L37.68,238.20 L38.63,238.20 L39.59,238.20 L40.55,238.20 L41.50,238.20 L42.46,238.20 L43.42,238.20 L44.37,238.20 L45.33,238.20 L46.28,238.20 L47.24,238.20 L48.20,238.20 L49.15,238.20 L50.11,238.20 L51.07,238.20 L52.02,238.20 L52.98,238.20 L53.94,238.20 L54.89,238.20 L55.85,238.20 L56.80,238.20 L57.76,238.20 L58.72,238.20 L59.67,238.20 L60.63,238.20 L61.59,238.19 L62.54,238.19 L63.50,238.19 L64.46,238.19 L65.41,238.19 L66.37,238.19 L67.32,238.19 L68.28,238.18 L69.24,238.18 L70.19,238.18 L71.15,238.18 L72.11,238.17 L73.06,238.17 L74.02,238.17 L74.98,238.16 L75.93,238.16 L76.89,238.16 L77.85,238.15 L78.80,238.14 L79.76,238.14 L80.71,238.13 L81.67,238.12 L82.63,238.12 L83.58,238.11 L84.54,238.10 L85.50,238.09 L86.45,238.08 L87.41,238.07 L88.37,238.06 L89.32,238.04 L90.28,238.03 L91.23,238.01 L92.19,238.00 L93.15,237.98 L94.10,237.96 L95.06,237.94 L96.02,237.92 L96.97,237.90 L97.93,237.88 L98.89,237.85 L99.84,237.83 L100.80,237.80 L101.75,237.77 L102.71,237.74 L103.67,237.71 L104.62,237.67 L105.58,237.63 L106.54,237.60 L107.49,237.56 L108.45,237.51 L109.41,237.47 L110.36,237.42 L111.32,237.37 L112.28,237.32 L113.23,237.27 L114.19,237.21 L115.14,237.16 L116.10,237.09 L117.06,237.03 L118.01,236.96 L118.97,236.90 L119.93,236.82 L120.88,236.75 L121.84,236.67 L122.80,236.59 L123.75,236.50 L124.71,236.42 L125.66,236.32 L126.62,236.23 L127.58,236.13 L128.53,236.03 L129.49,235.93 L130.45,235.82 L131.40,235.70 L132.36,235.59 L133.32,235.47 L134.27,235.34 L135.23,235.21 L136.18,235.08 L137.14,234.94 L138.10,234.80 L139.05,234.66 L140.01,234.51 L140.97,234.36 L141.92,234.20 L142.88,234.03 L143.84,233.87 L144.79,233.70 L145.75,233.52 L146.71,233.34 L147.66,233.15 L148.62,232.96 L149.57,232.77 L150.53,232.57 L151.49,232.36 L152.44,232.15 L153.40,231.94 L154.36,231.72 L155.31,231.49 L156.27,231.26 L157.23,231.03 L158.18,230.79 L159.14,230.55 L160.09,230.30 L161.05,230.04 L162.01,229.78 L162.96,229.52 L163.92,229.25 L164.88,228.97 L165.83,228.70 L166.79,228.41 L167.75,228.12 L168.70,227.83 L169.66,227.53 L170.62,227.23 L171.57,226.92 L172.53,226.60 L173.48,226.29 L174.44,225.96 L175.40,225.64 L176.35,225.31 L177.31,224.97 L178.27,224.63 L179.22,224.28 L180.18,223.94 L181.14,223.58 L182.09,223.22 L183.05,222.86 L184.00,222.50 L184.96,222.13 L185.92,221.75 L186.87,221.38 L187.83,221.00 L188.79,220.61 L189.74,220.22 L190.70,219.83 L191.66,219.44 L192.61,219.04 L193.57,218.64 L194.52,218.24 L195.48,217.83 L196.44,217.42 L197.39,217.01 L198.35,216.60 L199.31,216.18 L200.26,215.76 L201.22,215.34 L202.18,214.92 L203.13,214.50 L204.09,214.07 L205.05,213.65 L206.00,213.22 L206.96,212.79 L207.91,212.36 L208.87,211.93 L209.83,211.50 L210.78,211.07 L211.74,210.63 L212.70,210.20 L213.65,209.77 L214.61,209.34 L215.57,208.90 L216.52,208.47 L217.48,208.04 L218.43,207.61 L219.39,207.18 L220.35,206.75 L221.30,206.32 L222.26,205.90 L223.22,205.47 L224.17,205.05 L225.13,204.63 L226.09,204.21 L227.04,203.79 L228.00,203.38 L228.95,202.96 L229.91,202.55 L230.87,202.15 L231.82,201.74 L232.78,201.34 L233.74,200.95 L234.69,200.55 L235.65,200.16 L236.61,199.78 L237.56,199.40 L238.52,199.02 L239.48,198.64 L240.43,198.27 L241.39,197.91 L242.34,197.55 L243.30,197.19 L244.26,196.84 L245.21,196.50 L246.17,196.16 L247.13,195.82 L248.08,195.49 L249.04,195.17 L250.00,194.85 L250.95,194.54 L251.91,194.23 L252.86,193.93 L253.82,193.64 L254.78,193.35 L255.73,193.07 L256.69,192.80 L257.65,192.53 L258.60,192.27 L259.56,192.01 L260.52,191.77 L261.47,191.53 L262.43,191.29 L263.38,191.07 L264.34,190.85 L265.30,190.64 L266.25,190.43 L267.21,190.23 L268.17,190.05 L269.12,189.86 L270.08,189.69 L271.04,189.52 L271.99,189.36 L272.95,189.21 L273.91,189.07 L274.86,188.94 L275.82,188.81 L276.77,188.69 L277.73,188.58 L278.69,188.47 L279.64,188.38 L280.60,188.29 L281.56,188.21 L282.51,188.14 L283.47,188.08 L284.43,188.02 L285.38,187.98 L286.34,187.94 L287.29,187.90 L288.25,187.88 L289.21,187.87 L290.16,187.86 L291.12,187.86 L292.08,187.87 L293.03,187.88 L293.99,187.91 L294.95,187.94 L295.90,187.98 L296.86,188.03 L297.82,188.08 L298.77,188.14 L299.73,188.21 L300.68,188.29 L301.64,188.38 L302.60,188.47 L303.55,188.57 L304.51,188.68 L305.47,188.79 L306.42,188.91 L307.38,189.04 L308.34,189.17 L309.29,189.32 L310.25,189.46 L311.20,189.62 L312.16,189.78 L313.12,189.95 L314.07,190.12 L315.03,190.31 L315.99,190.49 L316.94,190.69 L317.90,190.89 L318.86,191.09 L319.81,191.30 L320.77,191.52 L321.72,191.74 L322.68,191.97 L323.64,192.20 L324.59,192.44 L325.55,192.68 L326.51,192.93 L327.46,193.19 L328.42,193.44 L329.38,193.71 L330.33,193.97 L331.29,194.25 L332.25,194.52 L333.20,194.80 L334.16,195.09 L335.11,195.38 L336.07,195.67 L337.03,195.96 L337.98,196.26 L338.94,196.57 L339.90,196.87 L340.85,197.18 L341.81,197.50 L342.77,197.81 L343.72,198.13 L344.68,198.45 L345.63,198.78 L346.59,199.11 L347.55,199.44 L348.50,199.77 L349.46,200.10 L350.42,200.44 L351.37,200.77 L352.33,201.11 L353.29,201.45 L354.24,201.80 L355.20,202.14 L356.15,202.49 L357.11,202.83 L358.07,203.18 L359.02,203.53 L359.98,203.88 L360.94,204.23 L361.89,204.58 L362.85,204.94 L363.81,205.29 L364.76,205.64 L365.72,205.99 L366.68,206.35 L367.63,206.70 L368.59,207.06 L369.54,207.41 L370.50,207.76 L371.46,208.11 L372.41,208.47 L373.37,208.82 L374.33,209.17 L375.28,209.52 L376.24,209.87 L377.20,210.22 L378.15,210.57 L379.11,210.92 L380.06,211.26 L381.02,211.61 L381.98,211.95 L382.93,212.29 L383.89,212.64 L384.85,212.98 L385.80,213.31 L386.76,213.65 L387.72,213.99 L388.67,214.32 L389.63,214.65 L390.58,214.98 L391.54,215.31 L392.50,215.64 L393.45,215.96 L394.41,216.28 L395.37,216.60 L396.32,216.92 L397.28,217.23 L398.24,217.55 L399.19,217.86 L400.15,218.17 L401.11,218.47 L402.06,218.78 L403.02,219.08 L403.97,219.38 L404.93,219.68 L405.89,219.97 L406.84,220.26 L407.80,220.55" stroke="#0000ff"/>
<path d="M26.20,238.20 L27.16,238.20 L28.11,238.20 L29.07,238.20 L30.03,238.20 L30.98,238.20 L31.94,238.20 L32.89,238.20 L33.85,238.20 L34.81,238.20 L35.76,238.20 L36.72,238.20 L37.68,238.20 L38.63,238.20 L39.59,238.20 L40.55,238.20 L41.50,238.20 L42.46,238.20 L43.42,238.20 L44.37,238.20 L45.33,238.20 L46.28,238.20 L47.24,238.20 L48.20,238.20 L49.15,238.20 L50.11,238.20 L51.07,238.20 L52.02,238.20 L52.98,238.20 L53.94,238.20 L54.89,238.20 L55.85,238.20 L56.80,238.20 L57.76,238.20 L58.72,238.20 L59.67,238.20 L60.63,238.20 L61.59,238.20 L62.54,238.20 L63.50,238.20 L64.46,238.20 L65.41,238.20 L66.37,238.20 L67.32,238.20 L68.28,238.20 L69.24,238.20 L70.19,238.20 L71.15,238.20 L72.11,238.20 L73.06,238.20 L74.02,238.20 L74.98,238.20 L75.93,238.20 L76.89,238.20 L77.85,238.20 L78.80,238.20 L79.76,238.20 L80.71,238.20 L81.67,238.20 L82.63,238.20 L83.58,238.20 L84.54,238.20 L85.50,238.20 L86.45,238.20 L87.41,238.19 L88.37,238.19 L89.32,238.19 L90.28,238.19 L91.23,238.19 L92.19,238.19 L93.15,238.19 L94.10,238.19 L95.06,238.19 L96.02,238.19 L96.97,238.18 L97.93,238.18 L98.89,238.18 L99.84,238.18 L100.80,238.18 L101.75,238.17 L102.71,238.17 L103.67,238.17 L104.62,238.17 L105.58,238.16 L106.54,238.16 L107.49,238.15 L108.45,238.15 L109.41,238.15 L110.36,238.14 L111.32,238.14 L112.28,238.13 L113.23,238.12 L114.19,238.12 L115.14,238.11 L116.10,238.10 L117.06,238.10 L118.01,238.09 L118.97,238.08 L119.93,238.07 L120.88,238.06 L121.84,238.05 L122.80,238.04 L123.75,238.03 L124.71,238.01 L125.66,238.00 L126.62,237.99 L127.58,237.97 L128.53,237.96 L129.49,237.94 L130.45,237.92 L131.40,237.90 L132.36,237.88 L133.32,237.86 L134.27,237.84 L135.23,237.82 L136.18,237.80 L137.14,237.77 L138.10,237.74 L139.05,237.72 L140.01,237.69 L140.97,237.66 L141.92,237.62 L142.88,237.59 L143.84,237.56 L144.79,237.52 L145.75,237.48 L146.71,237.44 L147.66,237.40 L148.62,237.36 L149.57,237.31 L150.53,237.27 L151.49,237.22 L152.44,237.17 L153.40,237.11 L154.36,237.06 L155.31,237.00 L156.27,236.94 L157.23,236.88 L158.18,236.81 L159.14,236.75 L160.09,236.68 L161.05,236.61 L162.01,236.53 L162.96,236.46 L163.92,236.38 L164.88,236.30 L165.83,236.21 L166.79,236.12 L167.75,236.03 L168.70,235.94 L169.66,235.84 L170.62,235.74 L171.57,235.64 L172.53,235.54 L173.48,235.43 L174.44,235.31 L175.40,235.20 L176.35,235.08 L177.31,234.96 L178.27,234.83 L179.22,234.70 L180.18,234.57 L181.14,234.43 L182.09,234.29 L183.05,234.15 L184.00,234.00 L184.96,233.85 L185.92,233.70 L186.87,233.54 L187.83,233.38 L188.79,233.21 L189.74,233.04 L190.70,232.87 L191.66,232.69 L192.61,232.51 L193.57,232.32 L194.52,232.13 L195.48,231.94 L196.44,231.74 L197.39,231.54 L198.35,231.33 L199.31,231.12 L200.26,230.91 L201.22,230.69 L202.18,230.47 L203.13,230.24 L204.09,230.01 L205.05,229.77 L206.00,229.53 L206.96,229.29 L207.91,229.04 L208.87,228.79 L209.83,228.54 L210.78,228.28 L211.74,228.02 L212.70,227.75 L213.65,227.48 L214.61,227.21 L215.57,226.93 L216.52,226.65 L217.48,226.36 L218.43,226.07 L219.39,225.78 L220.35,225.48 L221.30,225.18 L222.26,224.88 L223.22,224.57 L224.17,224.26 L225.13,223.94 L226.09,223.63 L227.04,223.31 L228.00,222.98 L228.95,222.66 L229.91,222.33 L230.87,222.00 L231.82,221.66 L232.78,221.32 L233.74,220.98 L234.69,220.64 L235.65,220.30 L236.61,219.95 L237.56,219.60 L238.52,219.25 L239.48,218.89 L240.43,218.54 L241.39,218.18 L242.34,217.82 L243.30,217.46 L244.26,217.10 L245.21,216.74 L246.17,216.37 L247.13,216.01 L248.08,215.64 L249.04,215.27 L250.00,214.90 L250.95,214.54 L251.91,214.17 L252.86,213.80 L253.82,213.43 L254.78,213.06 L255.73,212.69 L256.69,212.32 L257.65,211.95 L258.60,211.58 L259.56,211.21 L260.52,210.84 L261.47,210.48 L262.43,210.11 L263.38,209.75 L264.34,209.38 L265.30,209.02 L266.25,208.66 L267.21,208.30 L268.17,207.95 L269.12,207.59 L270.08,207.24 L271.04,206.89 L271.99,206.54 L272.95,206.20 L273.91,205.85 L274.86,205.51 L275.82,205.18 L276.77,204.84 L277.73,204.51 L278.69,204.19 L279.64,203.86 L280.60,203.54 L281.56,203.22 L282.51,202.91 L283.47,202.60 L284.43,202.30 L285.38,202.00 L286.34,201.70 L287.29,201.41 L288.25,201.12 L289.21,200.84 L290.16,200.56 L291.12,200.29 L292.08,200.02 L293.03,199.76 L293.99,199.50 L294.95,199.25 L295.90,199.00 L296.86,198.76 L297.82,198.53 L298.77,198.30 L299.73,198.07 L300.68,197.85 L301.64,197.64 L302.60,197.43 L303.55,197.23 L304.51,197.04 L305.47,196.85 L306.42,196.67 L307.38,196.49 L308.34,196.33 L309.29,196.16 L310.25,196.01 L311.20,195.86 L312.16,195.72 L313.12,195.58 L314.07,195.45 L315.03,195.33 L315.99,195.21 L316.94,195.10 L317.90,195.00 L318.86,194.91 L319.81,194.82 L320.77,194.74 L321.72,194.66 L322.68,194.59 L323.64,194.53 L324.59,194.48 L325.55,194.43 L326.51,194.39 L327.46,194.36 L328.42,194.34 L329.38,194.32 L330.33,194.31 L331.29,194.30 L332.25,194.30 L333.20,194.31 L334.16,194.33 L335.11,194.35 L336.07,194.38 L337.03,194.42 L337.98,194.46 L338.94,194.51 L339.90,194.56 L340.85,194.63 L341.81,194.70 L342.77,194.77 L343.72,194.85 L344.68,194.94 L345.63,195.04 L346.59,195.14 L347.55,195.25 L348.50,195.36 L349.46,195.48 L350.42,195.61 L351.37,195.74 L352.33,195.87 L353.29,196.02 L354.24,196.17 L355.20,196.32 L356.15,196.48 L357.11,196.65 L358.07,196.82 L359.02,196.99 L359.98,197.17 L360.94,197.36 L361.89,197.55 L362.85,197.75 L363.81,197.95 L364.76,198.16 L365.72,198.37 L366.68,198.58 L367.63,198.80 L368.59,199.02 L369.54,199.25 L370.50,199.48 L371.46,199.72 L372.41,199.96 L373.37,200.20 L374.33,200.45 L375.28,200.70 L376.24,200.96 L377.20,201.21 L378.15,201.47 L379.11,201.74 L380.06,202.01 L381.02,202.28 L381.98,202.55 L382.93,202.83 L383.89,203.10 L384.85,203.39 L385.80,203.67 L386.76,203.96 L387.72,204.24 L388.67,204.53 L389.63,204.83 L390.58,205.12 L391.54,205.42 L392.50,205.71 L393.45,206.01 L394.41,206.31 L395.37,206.62 L396.32,206.92 L397.28,207.22 L398.24,207.53 L399.19,207.83 L400.15,208.14 L401.11,208.45 L402.06,208.76 L403.02,209.07 L403.97,209.38 L404.93,209.69 L405.89,210.00 L406.84,210.31 L407.80,210.62" stroke="#ff69b4"/>
<path d="M106,238.2 H300" stroke="#6490d0" stroke-width="1.5" shape-rendering="auto" stroke-dasharray="2 0.5 0.8 0.5 6 0.5" opacity="0.45"/>
<path d="M300,238.2 H407.8" stroke="#6490d0" stroke-width="1.6" shape-rendering="auto" stroke-dasharray="2 0.5 0.8 0.5 6 0.5" opacity="0.9"/>
</g>
<g fill="none" stroke-width="2" shape-rendering="crispEdges">
<path d="M180,107 H183.7 M185,107 H187.8 M189.3,107 H201" stroke="#6490d0" shape-rendering="auto"/>
<path d="M180,120 H188.7 M190,120 H200.2" stroke="#f8aa2a" shape-rendering="auto"/>
<path d="M180,133 H202" stroke="#ff0000"/>
</g>
<g font-family="Liberation Sans, sans-serif" font-size="9.5" fill="#808080" stroke="#808080" stroke-width="0.3" style="will-change:transform">
<text transform="translate(26.20,247.80) scale(0.93,1.05)" text-anchor="middle" font-size="9.5">0.0</text>
<text transform="translate(102.52,247.80) scale(0.93,1.05)" text-anchor="middle" font-size="9.5">0.5</text>
<text transform="translate(178.84,247.80) scale(0.93,1.05)" text-anchor="middle" font-size="9.5">1.0</text>
<text transform="translate(255.16,247.80) scale(0.93,1.05)" text-anchor="middle" font-size="9.5">1.5</text>
<text transform="translate(331.48,247.80) scale(0.93,1.05)" text-anchor="middle" font-size="9.5">2.0</text>
<text transform="translate(407.80,247.80) scale(0.93,1.05)" text-anchor="middle" font-size="9.5">2.5</text>
<text transform="translate(24.20,241.20) scale(0.93,1.05)" text-anchor="end" font-size="9.5">0</text>
<text transform="translate(24.20,196.26) scale(0.93,1.05)" text-anchor="end" font-size="9.5">2</text>
<text transform="translate(24.20,151.32) scale(0.93,1.05)" text-anchor="end" font-size="9.5">4</text>
<text transform="translate(24.20,106.38) scale(0.93,1.05)" text-anchor="end" font-size="9.5">6</text>
<text transform="translate(24.20,61.44) scale(0.93,1.05)" text-anchor="end" font-size="9.5">8</text>
<text transform="translate(24.20,16.50) scale(0.93,1.05)" text-anchor="end" font-size="9.5">10</text>
<text transform="translate(8.60,120.00) rotate(-90) scale(0.93,1.05)" text-anchor="middle" font-size="9.5">MeV</text>
<text transform="translate(189.50,266.70) scale(1.0,1.05)" text-anchor="start" font-size="9.5">r=r12/(</text>
<text transform="translate(228.10,266.70) scale(0.93,1.05)" text-anchor="start" font-size="9.5">2</text>
<text transform="translate(234.90,266.70) scale(0.93,1.05)" text-anchor="start" font-size="9.5">b)</text>
<path d="M218.3,262.6 L219.8,261.8 L222.5,268.8 L224.9,254.4 H234.8" stroke="#808080" stroke-width="0.8" fill="none"/>
<path d="M219.6,262 L222.3,268.5" stroke="#808080" stroke-width="1.4" fill="none"/>
</g>
</svg></body></html>
